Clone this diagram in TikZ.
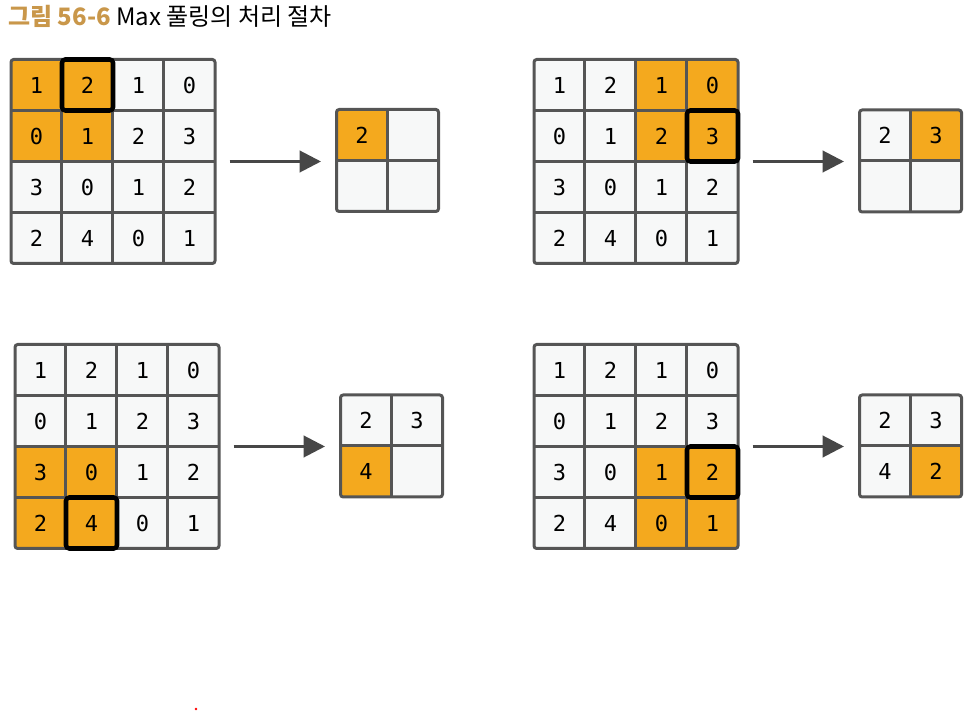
\documentclass[tikz,border=0pt]{standalone}
\usepackage{fontspec}
\setmonofont{DejaVu Sans Mono}
\newfontfamily\kfont{Noto Sans CJK KR}
\usetikzlibrary{arrows.meta,calc}
\definecolor{cor}{HTML}{F4A91E}
\definecolor{ccell}{HTML}{F7F8F8}
\definecolor{cline}{HTML}{555555}
\definecolor{carrow}{HTML}{474747}
\definecolor{ctitle}{HTML}{C9974A}
\tikzset{
  cellbox/.style={minimum size=38.25pt, inner sep=0pt, font=\ttfamily\fontsize{16.5}{16.5}\selectfont},
  gridline/.style={draw=cline, line width=2.25pt},
  gridframe/.style={draw=cline, line width=2.25pt, rounded corners=2pt, minimum size=153pt, inner sep=0pt},
  poolframe/.style={gridframe, minimum size=76.5pt},
  selbox/.style={draw=black, line width=3.4pt, rounded corners=2.5pt, minimum size=38.25pt, inner sep=0pt},
  flow/.style={-{Triangle[length=16pt,width=16pt]}, draw=carrow, line width=2.25pt, shorten <=9.75pt, shorten >=10.5pt},
}
% #1 name, #2 x, #3 y, #4 orange row, #5 orange col, #6 box row, #7 box col
\newcommand\biggrid[7]{%
  \foreach \ri in {0,...,3}{\foreach \ci in {0,...,3}{%
    \pgfmathtruncatemacro\vv{{1,2,1,0,0,1,2,3,3,0,1,2,2,4,0,1}[4*\ri+\ci]}%
    \pgfmathtruncatemacro\isor{and(and(\ri>#4-1,\ri<#4+2),and(\ci>#5-1,\ci<#5+2))}%
    \ifnum\isor=1 \def\fc{cor}\else\def\fc{ccell}\fi
    \node[cellbox, fill=\fc] (#1-\ri-\ci) at ({#2+(\ci-1.5)*51},{#3+(\ri-1.5)*51}) {\vv};
  }}
  \foreach \k in {1,2,3}{%
    \draw[gridline] (#1-0-\k.north west) -- (#1-3-\k.south west);
    \draw[gridline] (#1-\k-0.north west) -- (#1-\k-3.north east);
  }
  \node[gridframe] (#1) at (#2,#3) {};
  \node[selbox] (#1-sel) at (#1-#6-#7) {};
}
% #1 name, #2 x, #3 y, #4-#7 values, #8 orange row, #9 orange col
\newcommand\smallgrid[9]{%
  \foreach \ri/\ci/\vv in {0/0/{#4},0/1/{#5},1/0/{#6},1/1/{#7}}{%
    \pgfmathtruncatemacro\isor{and(\ri==#8,\ci==#9)}%
    \ifnum\isor=1 \def\fc{cor}\else\def\fc{ccell}\fi
    \node[cellbox, fill=\fc] (#1-\ri-\ci) at ({#2+(\ci-0.5)*51},{#3+(\ri-0.5)*51}) {\vv};
  }
  \draw[gridline] (#1-0-1.north west) -- (#1-1-1.south west);
  \draw[gridline] (#1-1-0.north west) -- (#1-1-1.north east);
  \node[poolframe] (#1) at (#2,#3) {};
}
\begin{document}
\begin{tikzpicture}[x=0.75pt,y=-0.75pt]
\useasboundingbox (0,0) rectangle (972,712);
\node[anchor=base west, inner sep=0pt, font=\kfont\fontsize{18}{20}\selectfont] (title) at (8,26)
  {\textcolor{ctitle}{\bfseries 그림 56-6} Max 풀링의 처리 절차};

\biggrid{G1}{113}{161.5}{0}{0}{0}{1}
\smallgrid{P1}{387.5}{160.5}{2}{}{}{}{0}{0}
\draw[flow] (G1.east) -- (G1.east -| P1.west);

\biggrid{G2}{636}{161.5}{0}{2}{1}{3}
\smallgrid{P2}{910.5}{161}{2}{3}{}{}{0}{1}
\draw[flow] (G2.east) -- (G2.east -| P2.west);

\biggrid{G3}{117}{446.5}{2}{0}{3}{1}
\smallgrid{P3}{391.5}{446}{2}{3}{4}{}{1}{0}
\draw[flow] (G3.east) -- (G3.east -| P3.west);

\biggrid{G4}{636}{446.5}{2}{2}{2}{3}
\smallgrid{P4}{910.5}{446}{2}{3}{4}{2}{1}{1}
\draw[flow] (G4.east) -- (G4.east -| P4.west);

\node[circle, fill=red, inner sep=0pt, minimum size=2.2pt] (dot) at (196,709) {};
\end{tikzpicture}
\end{document}
